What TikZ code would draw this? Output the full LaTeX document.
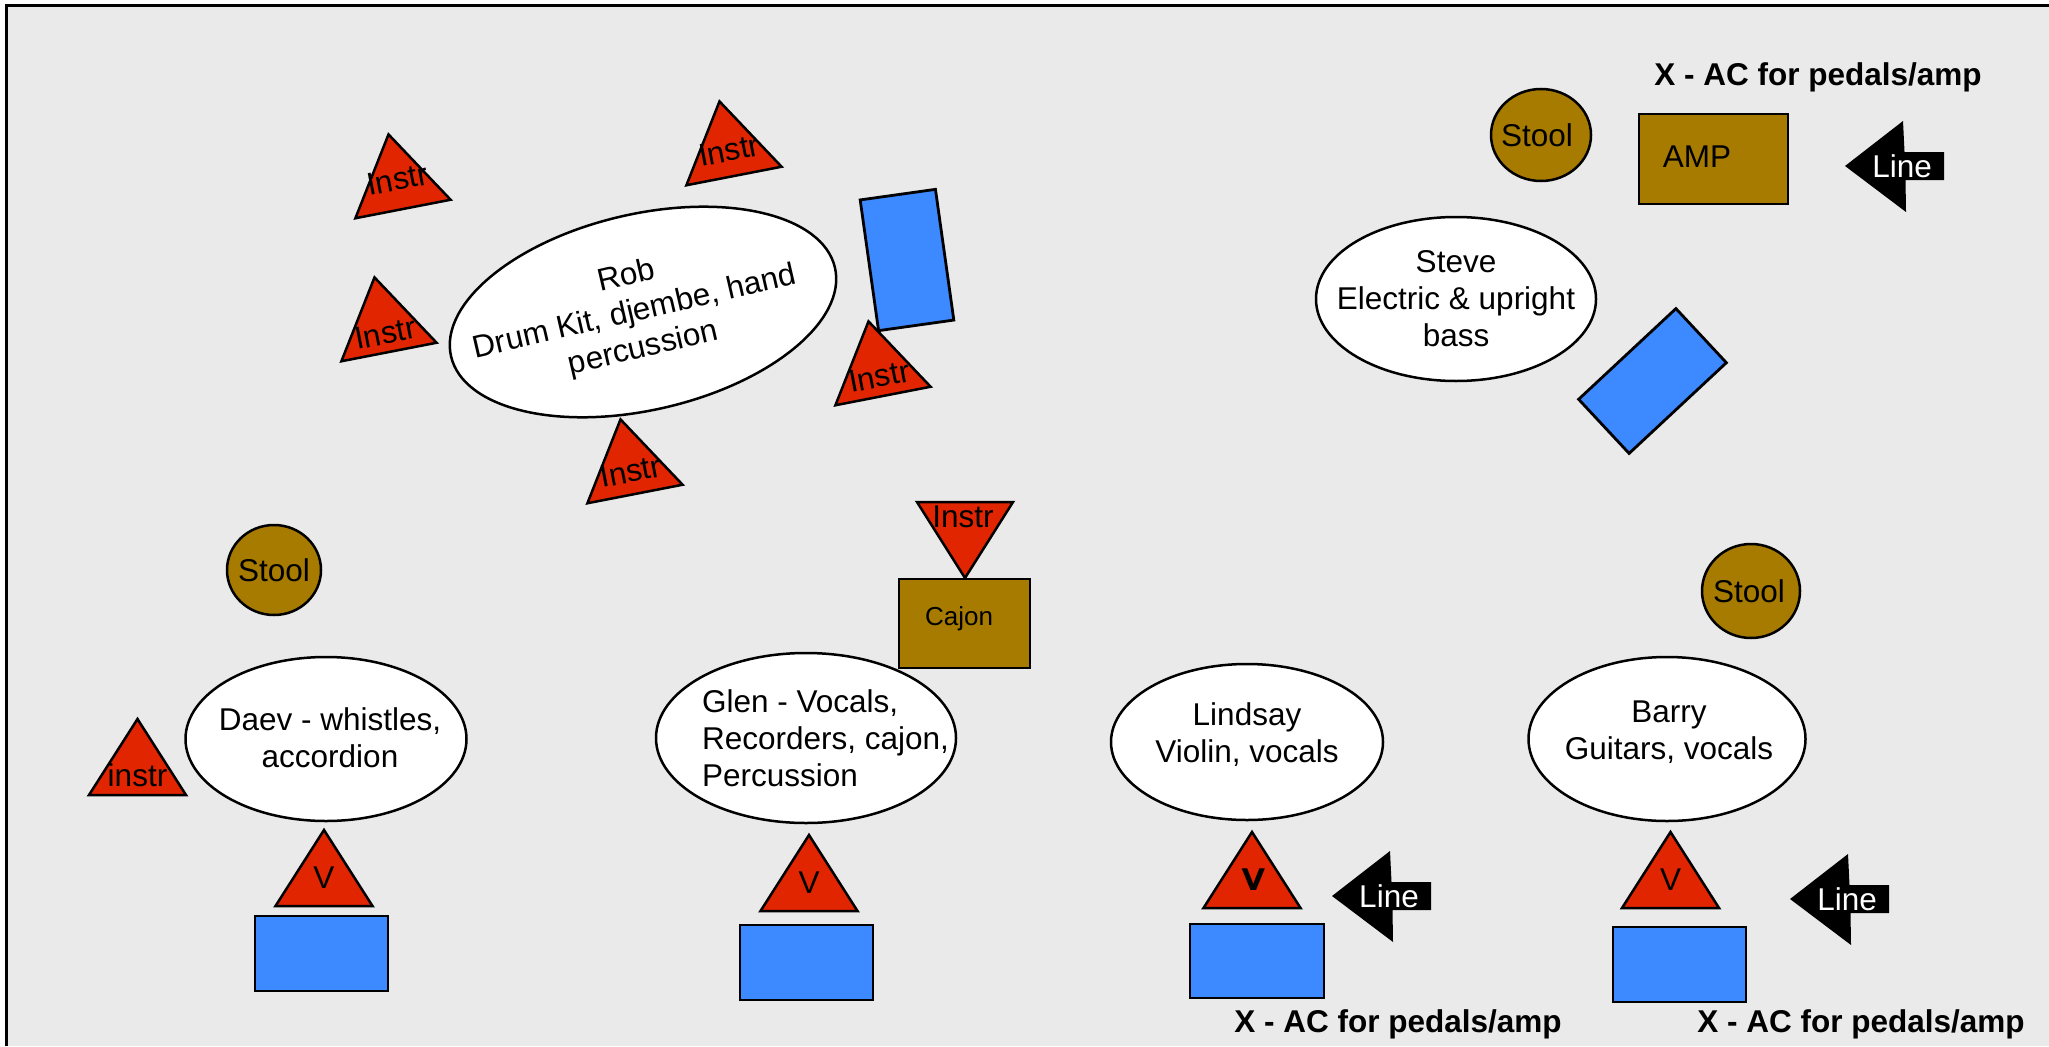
\documentclass[tikz,border=0pt]{standalone}
\usepackage{fontspec}
\setmainfont{Liberation Sans}
\usetikzlibrary{shapes.geometric}
\definecolor{bgc}{HTML}{EAEAEA}
\definecolor{redc}{HTML}{E12500}
\definecolor{brownc}{HTML}{A67B00}
\definecolor{bluec}{HTML}{3D89FF}
\newcommand\mytri[6]{% name, x, y, rot, text offset, text
  \begin{scope}[shift={(#2,#3)},rotate=#4]
    \draw[tri] (-48.5,0) -- (48.5,0) -- (0,-76) -- cycle;
    \node[rotate=#4] (#1) at (0,-#5) {#6};
  \end{scope}}
\newcommand\linearr[3]{% name, tip x, tip y
  \begin{scope}[shift={(#2,#3)}]
    \fill[black] (0,0) -- (58,-45) -- (59.5,-14) -- (99,-14) -- (99,14) -- (60.5,14) -- (61,46) -- cycle;
    \node[text=white] (#1) at (57,0) {Line};
  \end{scope}}
\begin{document}
\begin{tikzpicture}[x=1pt,y=-1pt,
  every node/.style={font=\fontsize{31.5}{37}\selectfont, inner sep=0pt, outer sep=0pt},
  person/.style={ellipse, draw, fill=white, line width=2.5pt},
  stoolnode/.style={ellipse, draw, fill=brownc, line width=2.5pt},
  tri/.style={draw, fill=redc, line width=2.5pt, line join=miter},
  bluebox/.style={rectangle, draw, fill=bluec, line width=2.8pt},
  brownbox/.style={rectangle, draw, fill=brownc, line width=2.8pt},
  note/.style={font=\bfseries\fontsize{31.5}{37}\selectfont}]
\useasboundingbox (0,0) rectangle (2049,1046);
\fill[white] (0,0) rectangle (2049,1046);
\fill[bgc] (6,5) rectangle (2049,1046);
\draw[line width=3pt] (6.5,1046) -- (6.5,5.5) -- (2049,5.5);

% Rob
\node[person, minimum width=394pt, minimum height=196pt, rotate=13] (rob) at (643,312) {};
\node[rotate=13, align=center] (robtxt) at (635,313) {Rob\\Drum Kit, djembe, hand\\percussion};
\mytri{i1}{403}{209}{11}{30}{Instr}
\mytri{i2}{734}{176}{11}{26}{Instr}
\mytri{i3}{389}{352}{11}{19}{Instr}
\mytri{i4}{883}{396}{11}{20}{Instr}
\mytri{i5}{635}{494}{11}{23}{Instr}
\node[bluebox, minimum width=76pt, minimum height=132pt, rotate=8] (robmon) at (907,260) {};

% Steve
\node[person, minimum width=280pt, minimum height=164pt] (steve) at (1456,299) {};
\node[align=center] (stevetxt) at (1456,299) {Steve\\Electric \& upright\\bass};
\node[bluebox, minimum width=74pt, minimum height=133pt, rotate=-47] (stevemon) at (1652.5,381) {};
\node[stoolnode, minimum width=100pt, minimum height=92pt] (stool1) at (1541,135) {};
\node (stool1txt) at (1537,135) {Stool};
\node[brownbox, minimum width=149pt, minimum height=90pt] (amp) at (1713.5,159) {};
\node (amptxt) at (1697,157) {AMP};
\linearr{line1}{1845}{166}
\node[note] (ac1) at (1818,77) {X - AC for pedals/amp};

% Daev
\node[stoolnode, minimum width=94pt, minimum height=90pt] (stool2) at (274,570) {};
\node (stool2txt) at (274,570) {Stool};
\node[person, minimum width=281pt, minimum height=164pt] (daev) at (326,739) {};
\node[align=center] (daevtxt) at (330,738) {Daev - whistles,\\accordion};
\mytri{i6}{137.5}{795}{0}{20}{instr}
\mytri{v1}{324}{906}{0}{28}{V}
\node[bluebox, minimum width=133pt, minimum height=75pt] (daevmon) at (321.5,953.5) {};

% Cajon
\draw[tri] (917,502) -- (1013,502) -- (965,578) -- cycle;
\node (i7) at (963,517) {Instr};
\node[brownbox, minimum width=131pt, minimum height=89pt] (cajon) at (964.5,623.5) {};
\node[font=\fontsize{26}{30}\selectfont] (cajontxt) at (959,619) {Cajon};

% Glen
\node[person, minimum width=300pt, minimum height=170pt] (glen) at (806,738) {};
\node[align=left, anchor=west] (glentxt) at (702,738) {Glen - Vocals,\\Recorders, cajon,\\Percussion};
\mytri{v2}{809}{911}{0}{28}{V}
\node[bluebox, minimum width=133pt, minimum height=75pt] (glenmon) at (806.5,962.5) {};

% Lindsay
\node[person, minimum width=272pt, minimum height=156pt] (lindsay) at (1247,742) {};
\node[align=center] (lindsaytxt) at (1247,735) {Lindsay\\Violin, vocals};
\mytri{v3}{1252}{908}{0}{28}{V}
\node (v3b) at (1254.5,880) {V};
\node[bluebox, minimum width=134pt, minimum height=74pt] (lindsaymon) at (1257,961) {};
\linearr{line2}{1332}{896}
\node[note] (ac2) at (1398,1024) {X - AC for pedals/amp};

% Barry
\node[stoolnode, minimum width=98pt, minimum height=94pt] (stool3) at (1751,591) {};
\node (stool3txt) at (1749,591) {Stool};
\node[person, minimum width=277pt, minimum height=164pt] (barry) at (1667,739) {};
\node[align=center] (barrytxt) at (1669,732) {Barry\\Guitars, vocals};
\mytri{v4}{1670.5}{908}{0}{28}{V}
\node[bluebox, minimum width=133pt, minimum height=75pt] (barrymon) at (1679.5,964.5) {};
\linearr{line3}{1790}{899}
\node[note] (ac3) at (1861,1024) {X - AC for pedals/amp};
\end{tikzpicture}
\end{document}
